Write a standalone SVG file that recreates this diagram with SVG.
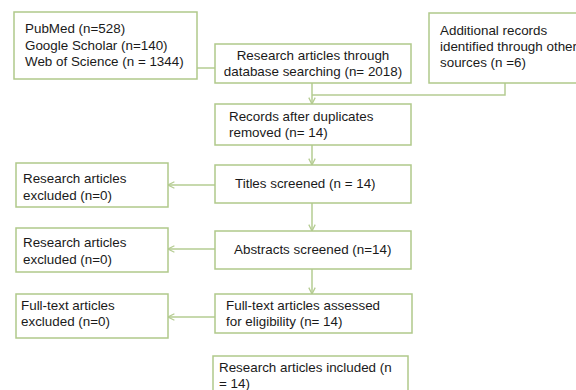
<svg xmlns="http://www.w3.org/2000/svg" width="576" height="390" viewBox="0 0 576 390">
<defs>
<style>
.box{fill:#ffffff;stroke:#b0c98a;stroke-width:1.5}
.ln{fill:none;stroke:#b5cc92;stroke-width:1.5}
text{font-family:"Liberation Sans",Arial,sans-serif;font-size:13.4px;fill:#1a1a1a}
.c{text-anchor:middle}
</style>
<marker id="ar" viewBox="0 0 10 10" refX="9" refY="5" markerWidth="8" markerHeight="8" markerUnits="userSpaceOnUse" orient="auto">
<path d="M1,1 L9,5 L1,9" fill="none" stroke="#b5cc92" stroke-width="1.6"/>
</marker>
</defs>
<rect width="576" height="390" fill="#ffffff"/>
<g id="connectors">
<path class="ln" d="M197,68 H215"/>
<path class="ln" d="M505,83 V95 H312"/>
<path class="ln" d="M312,83 V104" marker-end="url(#ar)"/>
<path class="ln" d="M312,145 V165" marker-end="url(#ar)"/>
<path class="ln" d="M312,203 V231" marker-end="url(#ar)"/>
<path class="ln" d="M312,269 V294" marker-end="url(#ar)"/>
<path class="ln" d="M215,185 H168" marker-end="url(#ar)"/>
<path class="ln" d="M215,249 H168" marker-end="url(#ar)"/>
<path class="ln" d="M215,317 H168" marker-end="url(#ar)"/>
</g>
<g id="sources">
<rect class="box" x="14" y="12" width="183" height="67"/>
<text x="25" y="33">PubMed (n=528)</text>
<text x="25" y="50">Google Scholar (n=140)</text>
<text x="25" y="66">Web of Science (n = 1344)</text>
</g>
<g id="database">
<rect class="box" x="215" y="44" width="196" height="39"/>
<text class="c" x="313" y="60">Research articles through</text>
<text class="c" x="313" y="76">database searching (n= 2018)</text>
</g>
<g id="additional">
<rect class="box" x="429" y="13" width="160" height="70"/>
<text x="440" y="35">Additional records</text>
<text x="440" y="51">identified through other</text>
<text x="440" y="67">sources (n =6)</text>
</g>
<g id="duplicates">
<rect class="box" x="215" y="104" width="196" height="41"/>
<text x="229" y="121">Records after duplicates</text>
<text x="229" y="137">removed (n= 14)</text>
</g>
<g id="titles">
<rect class="box" x="215" y="165" width="196" height="38"/>
<text x="235" y="188">Titles screened (n = 14)</text>
</g>
<g id="excl1">
<rect class="box" x="16" y="163" width="152" height="44"/>
<text x="23" y="183">Research articles</text>
<text x="23" y="200">excluded (n=0)</text>
</g>
<g id="abstracts">
<rect class="box" x="215" y="231" width="196" height="38"/>
<text x="234" y="254">Abstracts screened (n=14)</text>
</g>
<g id="excl2">
<rect class="box" x="16" y="228" width="152" height="44"/>
<text x="23" y="247">Research articles</text>
<text x="23" y="264">excluded (n=0)</text>
</g>
<g id="fulltext">
<rect class="box" x="215" y="294" width="197" height="39"/>
<text x="226" y="310">Full-text articles assessed</text>
<text x="226" y="326">for eligibility (n= 14)</text>
</g>
<g id="excl3">
<rect class="box" x="16" y="294" width="152" height="44"/>
<text x="21" y="310">Full-text articles</text>
<text x="21" y="326">excluded (n=0)</text>
</g>
<g id="included">
<rect class="box" x="213" y="356" width="195" height="40"/>
<text x="219" y="372">Research articles included  (n</text>
<text x="219" y="388">= 14)</text>
</g>
</svg>
